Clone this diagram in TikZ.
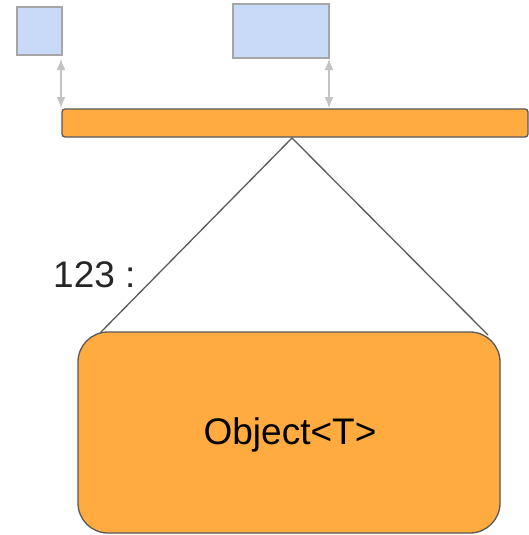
\documentclass[tikz,border=0pt]{standalone}
\usepackage{fontspec}
\setmainfont{Liberation Sans}
\usetikzlibrary{arrows.meta}
\definecolor{boxblue}{HTML}{C9DAF8}
\definecolor{boxgray}{HTML}{A6A6A6}
\definecolor{orangefill}{HTML}{FFAB40}
\definecolor{darkline}{HTML}{595959}
\definecolor{arrowgray}{HTML}{C3C3C3}
\tikzset{
  bluebox/.style={draw=boxgray, fill=boxblue, line width=1.5pt},
  orangebox/.style={draw=darkline, fill=orangefill, line width=1.3pt},
  link/.style={draw=arrowgray, line width=1.5pt, {Latex[length=11pt,width=9pt]}-{Latex[length=11pt,width=9pt]}},
  fan/.style={draw=darkline, line width=1.3pt},
}
\begin{document}
\begin{tikzpicture}[x=1pt,y=-1pt]
\useasboundingbox (0,0) rectangle (529,535);
\fill[white] (0,0) rectangle (529,535);
\path[bluebox] (17,7) rectangle (62,55);
\path[bluebox] (233,4) rectangle (329,58);
\coordinate (sa) at (61,59);
\coordinate (sb) at (61,108);
\coordinate (ba) at (329,59);
\coordinate (bb) at (329,108);
\path[link] (sa) -- (sb);
\path[link] (ba) -- (bb);
\path[orangebox, rounded corners=3pt] (62,109) rectangle (528,137);
\coordinate (apex) at (292,138);
\coordinate (l) at (100,333);
\coordinate (r) at (488,335);
\path[fan] (l) -- (apex) -- (r);
\path[orangebox, rounded corners=30pt] (78,332) rectangle (500,533);
\node[font=\fontsize{37}{40}\selectfont, text=black] (obj) at (290,435) {Object<T>};
\node[font=\fontsize{37}{40}\selectfont, text=black!85, anchor=west, inner sep=0pt] (lbl) at (53,275) {123 :};
\end{tikzpicture}
\end{document}
